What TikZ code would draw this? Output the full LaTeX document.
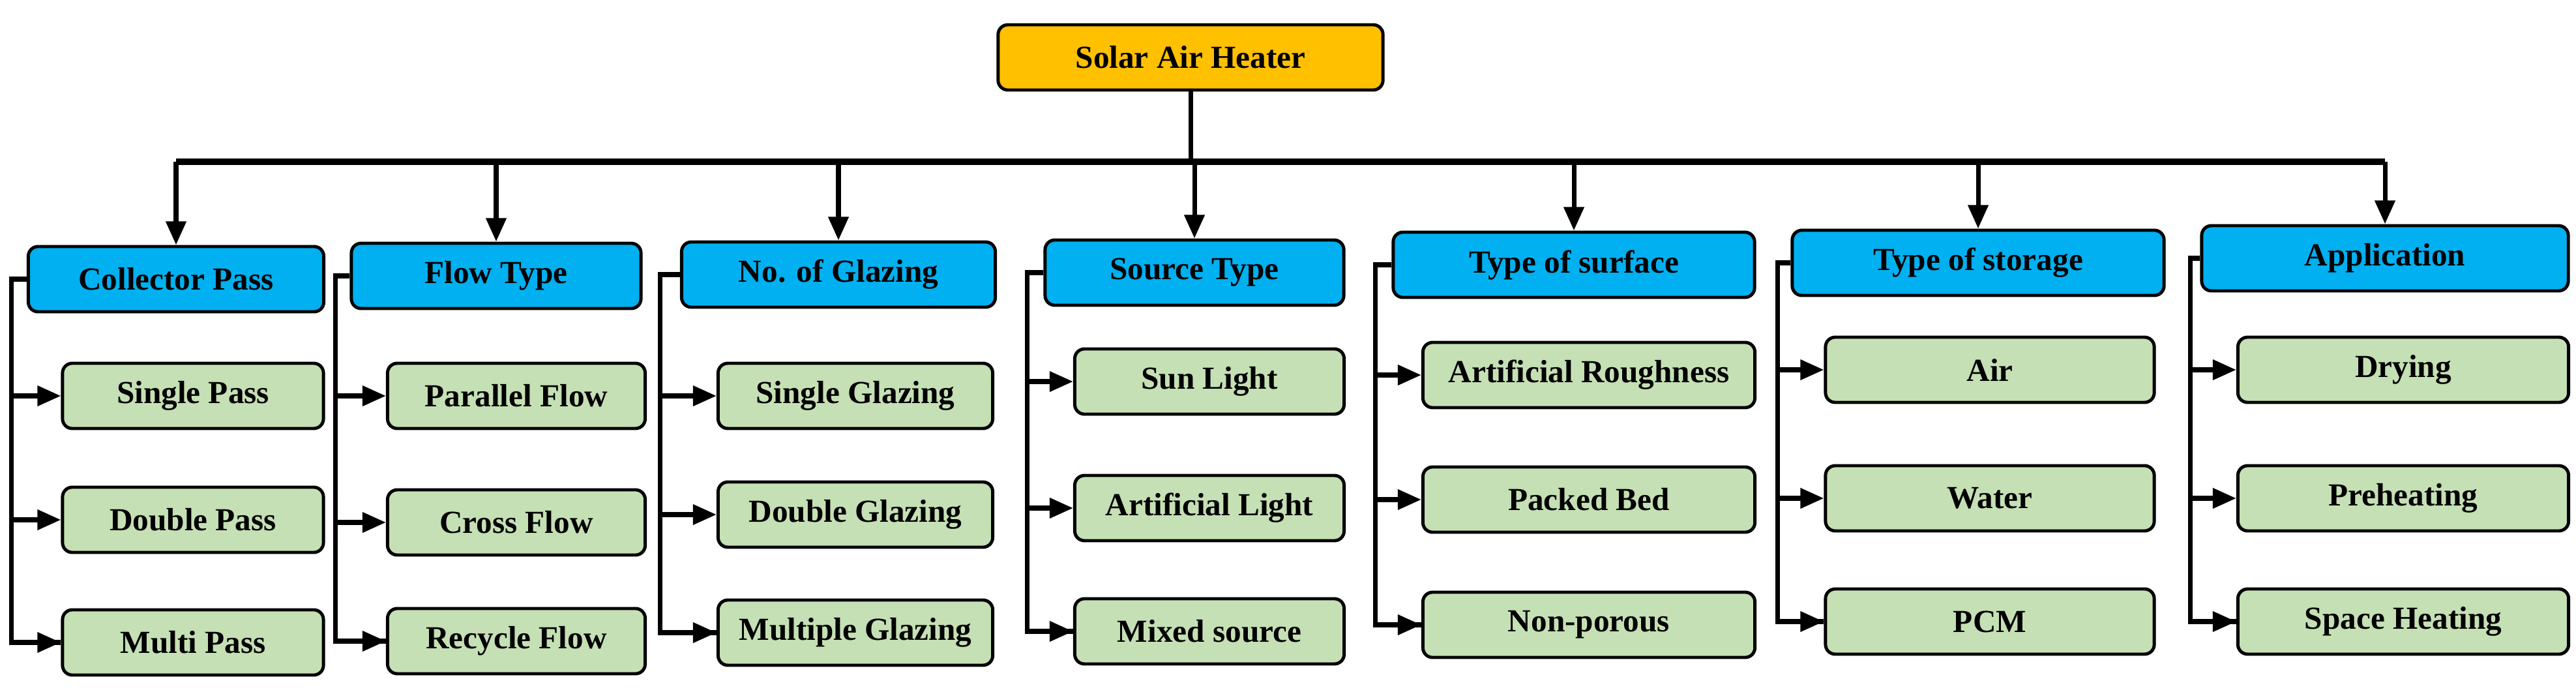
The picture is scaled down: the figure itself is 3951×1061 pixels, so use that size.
\documentclass[tikz,border=0pt]{standalone}
\usepackage{fontspec}
\setmainfont{Liberation Serif}
\usetikzlibrary{positioning, arrows.meta}
\definecolor{rootorange}{HTML}{FFC000}
\definecolor{headblue}{HTML}{00B0F0}
\definecolor{leafgreen}{HTML}{C5E0B4}
\tikzstyle{rootblock} = [rectangle, draw, fill=rootorange, line width=1.4pt,
text centered, rounded corners=0.15cm, minimum height=1cm, minimum width=5.9cm]
\tikzstyle{hblock} = [rectangle, draw, fill=headblue, line width=1.4pt,
text centered, rounded corners=0.15cm, minimum height=1cm]
\tikzstyle{lblock} = [rectangle, draw, fill=leafgreen, line width=1.4pt,
text centered, rounded corners=0.15cm, minimum height=1cm]
\tikzstyle{arrow} = [line width=2pt, -{Triangle[length=0.36cm, width=0.3cm]}]
\tikzstyle{line} = [line width=2pt]
\begin{document}
\begin{tikzpicture}[x=0.01cm, y=-0.01cm]
                \tikzstyle{every node}=[font=\fontsize{14}{16}\selectfont\bfseries]
                \useasboundingbox (0,0) rectangle (3951,1061);
                \node (root) [rootblock] at (1826,88) {Solar Air Heater};
                % headers
                \node (cp) [hblock, minimum width=4.53cm] at (270,428) {Collector Pass};
                \node (ft) [hblock, minimum width=4.44cm] at (761,423) {Flow Type};
                \node (ng) [hblock, minimum width=4.81cm] at (1286,421) {No. of Glazing};
                \node (st) [hblock, minimum width=4.58cm] at (1832,418) {Source Type};
                \node (ts) [hblock, minimum width=5.54cm] at (2414,406) {Type of surface};
                \node (tg) [hblock, minimum width=5.70cm] at (3034,403) {Type of storage};
                \node (ap) [hblock, minimum width=5.62cm] at (3658,396) {Application};
                % leaves
                \node (cp1) [lblock, minimum width=4.00cm] at (296,607) {Single Pass};
                \node (cp2) [lblock, minimum width=4.00cm] at (296,797) {Double Pass};
                \node (cp3) [lblock, minimum width=4.00cm] at (296,985) {Multi Pass};
                \node (ft1) [lblock, minimum width=3.95cm] at (792,607) {Parallel Flow};
                \node (ft2) [lblock, minimum width=3.95cm] at (792,801) {Cross Flow};
                \node (ft3) [lblock, minimum width=3.95cm] at (792,983) {Recycle Flow};
                \node (ng1) [lblock, minimum width=4.21cm] at (1312,607) {Single Glazing};
                \node (ng2) [lblock, minimum width=4.21cm] at (1312,789) {Double Glazing};
                \node (ng3) [lblock, minimum width=4.21cm] at (1312,970) {Multiple Glazing};
                \node (st1) [lblock, minimum width=4.13cm] at (1855,585) {Sun Light};
                \node (st2) [lblock, minimum width=4.13cm] at (1855,779) {Artificial Light};
                \node (st3) [lblock, minimum width=4.13cm] at (1855,968) {Mixed source};
                \node (ts1) [lblock, minimum width=5.09cm] at (2437,575) {Artificial Roughness};
                \node (ts2) [lblock, minimum width=5.09cm] at (2437,766) {Packed Bed};
                \node (ts3) [lblock, minimum width=5.09cm] at (2437,958) {Non-porous};
                \node (tg1) [lblock, minimum width=5.04cm] at (3052,567) {Air};
                \node (tg2) [lblock, minimum width=5.04cm] at (3052,764) {Water};
                \node (tg3) [lblock, minimum width=5.04cm] at (3052,953) {PCM};
                \node (ap1) [lblock, minimum width=5.07cm] at (3686,567) {Drying};
                \node (ap2) [lblock, minimum width=5.07cm] at (3686,764) {Preheating};
                \node (ap3) [lblock, minimum width=5.07cm] at (3686,953) {Space Heating};
                % bus
                \coordinate (bus) at (1826,248);
                \draw [line] (root) -- (bus);
                \draw [line width=2.8pt] (cp.north |- bus) -- (ap.north |- bus);
                \draw [arrow] (cp.north |- bus) -- (cp.north);
                \draw [arrow] (ft.north |- bus) -- (ft.north);
                \draw [arrow] (ng.north |- bus) -- (ng.north);
                \draw [arrow] (st.north |- bus) -- (st.north);
                \draw [arrow] (ts.north |- bus) -- (ts.north);
                \draw [arrow] (tg.north |- bus) -- (tg.north);
                \draw [arrow] (ap.north |- bus) -- (ap.north);
                % branches
                \draw [line] (cp.west) -- ++(-23,0) |- (cp3.west);
                \draw [arrow] ([xshift=-0.76cm]cp1.west) -- (cp1);
                \draw [arrow] ([xshift=-0.76cm]cp2.west) -- (cp2);
                \draw [arrow] ([xshift=-0.76cm]cp3.west) -- (cp3);
                \draw [line] (ft.west) -- ++(-22,0) |- (ft3.west);
                \draw [arrow] ([xshift=-0.78cm]ft1.west) -- (ft1);
                \draw [arrow] ([xshift=-0.78cm]ft2.west) -- (ft2);
                \draw [arrow] ([xshift=-0.78cm]ft3.west) -- (ft3);
                \draw [line] (ng.west) -- ++(-30,0) |- (ng3.west);
                \draw [arrow] ([xshift=-0.85cm]ng1.west) -- (ng1);
                \draw [arrow] ([xshift=-0.85cm]ng2.west) -- (ng2);
                \draw [arrow] ([xshift=-0.85cm]ng3.west) -- (ng3);
                \draw [line] (st.west) -- ++(-25,0) |- (st3.west);
                \draw [arrow] ([xshift=-0.70cm]st1.west) -- (st1);
                \draw [arrow] ([xshift=-0.70cm]st2.west) -- (st2);
                \draw [arrow] ([xshift=-0.70cm]st3.west) -- (st3);
                \draw [line] (ts.west) -- ++(-25,0) |- (ts3.west);
                \draw [arrow] ([xshift=-0.70cm]ts1.west) -- (ts1);
                \draw [arrow] ([xshift=-0.70cm]ts2.west) -- (ts2);
                \draw [arrow] ([xshift=-0.70cm]ts3.west) -- (ts3);
                \draw [line] (tg.west) -- ++(-20,0) |- (tg3.west);
                \draw [arrow] ([xshift=-0.71cm]tg1.west) -- (tg1);
                \draw [arrow] ([xshift=-0.71cm]tg2.west) -- (tg2);
                \draw [arrow] ([xshift=-0.71cm]tg3.west) -- (tg3);
                \draw [line] (ap.west) -- ++(-15,0) |- (ap3.west);
                \draw [arrow] ([xshift=-0.70cm]ap1.west) -- (ap1);
                \draw [arrow] ([xshift=-0.70cm]ap2.west) -- (ap2);
                \draw [arrow] ([xshift=-0.70cm]ap3.west) -- (ap3);
\end{tikzpicture}
\end{document}
